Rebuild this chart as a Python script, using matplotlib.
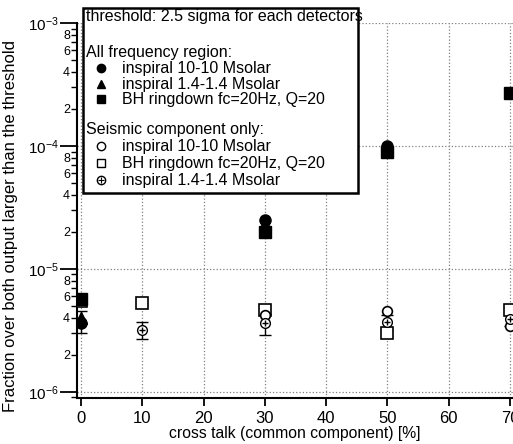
import numpy as np
import matplotlib
matplotlib.use("Agg")
import matplotlib.pyplot as plt
from matplotlib.lines import Line2D
from matplotlib.patches import Rectangle
from matplotlib.ticker import LogLocator, FuncFormatter

plt.rcParams['font.family'] = ['Liberation Sans', 'DejaVu Sans']
plt.rcParams['mathtext.default'] = 'regular'

# cross talk values [%]
x_all = [0, 30, 50, 70]
x_seis = [0, 10, 30, 50, 70]

# all frequency region (filled symbols)
ins1010_all = [3.6e-6, 2.5e-5, 1.0e-4, np.nan]
ins14_all = [4.0e-6, 2.3e-5, np.nan, np.nan]
bh_all = [5.7e-6, 2.0e-5, 9.0e-5, 2.7e-4]

# seismic component only (open symbols)
ins1010_seis = [3.6e-6, np.nan, 4.2e-6, 4.5e-6, 3.4e-6]
bh_seis = [5.5e-6, 5.3e-6, 4.6e-6, 3.0e-6, 4.6e-6]
ins14_seis = [3.7e-6, 3.2e-6, 3.6e-6, 3.7e-6, 3.9e-6]
ins14_seis_lo = [0.7e-6, 0.5e-6, 0.7e-6, 0.5e-6, 0.5e-6]
ins14_seis_hi = [0.8e-6, 0.5e-6, 0.7e-6, 0.5e-6, 0.5e-6]

fig = plt.figure(figsize=(5.13, 4.44), dpi=100)
ax = fig.add_axes([77/513, 1-398/444, 436/513, 375/444])

ax.set_yscale('log')
ax.set_xlim(-0.65, 70.5)
ax.set_ylim(0.89e-6, 1e-3)

ax.grid(True, which='major', color='gray', linestyle=':', linewidth=0.9)
for s in ['top', 'right']:
    ax.spines[s].set_visible(False)
for s in ['left', 'bottom']:
    ax.spines[s].set_linewidth(1.5)

ax.errorbar(x_seis, ins14_seis, yerr=[ins14_seis_lo, ins14_seis_hi], fmt='none',
            ecolor='black', elinewidth=1, capsize=4, capthick=1, zorder=3)
ax.plot(x_seis, bh_seis, 's', mfc='white', mec='black', mew=1.2, ms=8, zorder=4)
ax.plot(x_seis, ins1010_seis, 'o', mfc='white', mec='black', mew=1.2, ms=7, zorder=4)
ax.plot(x_seis, ins14_seis, 'o', mfc='white', mec='black', mew=1.0, ms=7, zorder=5)
ax.plot(x_seis, ins14_seis, '+', color='black', mew=1.0, ms=5, zorder=6)

ax.plot(x_all, bh_all, 's', color='black', ms=9, zorder=7)
ax.plot(x_all, ins14_all, '^', color='black', ms=8, zorder=7)
ax.plot(x_all, ins1010_all, 'o', color='black', ms=8, zorder=7)

ax.set_xticks([0, 10, 20, 30, 40, 50, 60, 70])
ax.tick_params(axis='x', which='major', direction='out', length=6, width=1.3,
               labelsize=12)
ax.tick_params(axis='y', which='major', direction='out', length=12, width=1.3,
               labelsize=11, pad=1)
ax.tick_params(axis='y', which='minor', direction='out', length=4, width=1.0,
               labelsize=9, pad=1)

ax.yaxis.set_minor_locator(LogLocator(base=10, subs=np.arange(2, 10)))

def minor_fmt(v, pos):
    m = int(round(v / 10**np.floor(np.log10(v) + 1e-9)))
    return str(m) if m in (2, 4, 6, 8) else ''

ax.yaxis.set_minor_formatter(FuncFormatter(minor_fmt))

ax.set_xlabel('cross talk (common component) [%]', fontsize=11.3, labelpad=0)
ax.set_ylabel('Fraction over both output larger than the threshold', fontsize=12)
ax.yaxis.set_label_coords(-0.135, 0.46)

# legend box drawn by hand (figure pixels)
W, H = 513, 444
def fx(px):
    return px / W
def fy(py):
    return 1 - py / H

fig.add_artist(Rectangle((fx(83), fy(193)), fx(358) - fx(83), fy(8) - fy(193),
                         transform=fig.transFigure, facecolor='white',
                         edgecolor='black', linewidth=1.8, zorder=10))

tx = 86
fs = 11.5
fig.text(fx(tx), fy(16), 'threshold: 2.5 sigma for each detectors', fontsize=fs,
         va='center', zorder=11)
fig.text(fx(tx), fy(52), 'All frequency region:', fontsize=fs, va='center', zorder=11)
fig.text(fx(tx), fy(129), 'Seismic component only:', fontsize=fs, va='center', zorder=11)

entries = [
    (68, 'o', 'black', 'inspiral 10-10 Msolar', False),
    (84, '^', 'black', 'inspiral 1.4-1.4 Msolar', False),
    (99, 's', 'black', 'BH ringdown fc=20Hz, Q=20', False),
    (146, 'o', 'white', 'inspiral 10-10 Msolar', False),
    (163, 's', 'white', 'BH ringdown fc=20Hz, Q=20', False),
    (180, 'o', 'white', 'inspiral 1.4-1.4 Msolar', True),
]
for py, m, fc, label, plus in entries:
    fig.add_artist(Line2D([fx(101)], [fy(py)], marker=m, mfc=fc, mec='black',
                          ms=6, mew=1.0, linestyle='none',
                          transform=fig.transFigure, zorder=11))
    if plus:
        fig.add_artist(Line2D([fx(101)], [fy(py)], marker='+', color='black',
                              ms=4, mew=0.8, linestyle='none',
                              transform=fig.transFigure, zorder=12))
    fig.text(fx(122), fy(py), label, fontsize=fs, va='center', zorder=11)

fig.savefig('out.png', dpi=100)
